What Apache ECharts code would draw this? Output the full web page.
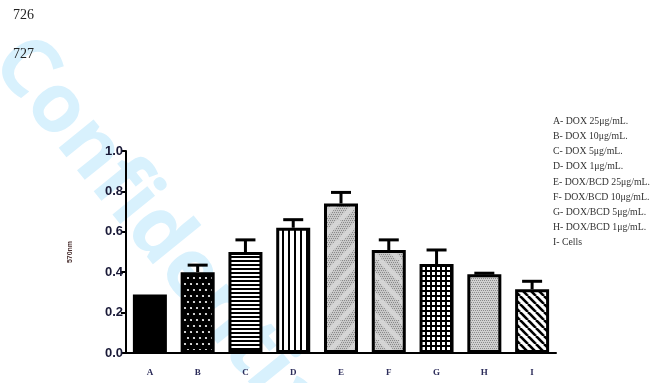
<!DOCTYPE html>
<html>
<head>
<meta charset="utf-8">
<script src="https://cdn.jsdelivr.net/npm/echarts@6/dist/echarts.min.js"></script>
<style>
html,body{margin:0;padding:0;background:#fff;}
#chart{width:666px;height:383px;}
</style>
</head>
<body>
<div id="chart"></div>
<script>
// ---- data ----
const categories = ['A','B','C','D','E','F','G','H','I'];
const values = [0.29, 0.40, 0.50, 0.62, 0.74, 0.51, 0.44, 0.39, 0.315];
const errors = [0, 0.035, 0.06, 0.04, 0.055, 0.05, 0.07, 0.005, 0.04];
const patterns = ['solid','dots','hlines','vlines','grayDiagUp','grayDiagDown','grid','grayStipple','diagDown'];
const yTicks = [0, 0.2, 0.4, 0.6, 0.8, 1.0];
const legendLines = [
  'A- DOX 25\u03bcg/mL.',
  'B- DOX 10\u03bcg/mL.',
  'C- DOX 5\u03bcg/mL.',
  'D- DOX 1\u03bcg/mL.',
  'E- DOX/BCD 25\u03bcg/mL.',
  'F- DOX/BCD 10\u03bcg/mL.',
  'G- DOX/BCD 5\u03bcg/mL.',
  'H- DOX/BCD 1\u03bcg/mL.',
  'I- Cells'
];
const yAxisName = '570nm';
const lineNumbers = ['726', '727'];
const watermark = 'Confidential';

// ---- pattern canvases ----
function stipple(ctx, w, h, bg, fg) {
  ctx.fillStyle = bg; ctx.fillRect(0, 0, w, h);
  ctx.fillStyle = fg;
  for (let y = 0; y < h; y += 2) for (let x = (y / 2) % 2; x < w; x += 2) ctx.fillRect(x, y, 1, 1);
}
function makePattern(type) {
  const c = document.createElement('canvas');
  let w = 12, h = 12;
  if (type === 'hlines') { w = 4; h = 4; }
  if (type === 'vlines') { w = 6; h = 4; }
  if (type === 'grid') { w = 5; h = 5; }
  if (type === 'diagDown') { w = 8; h = 8; }
  if (type === 'grayDiagUp' || type === 'grayDiagDown') { w = 20; h = 20; }
  c.width = w; c.height = h;
  const ctx = c.getContext('2d');
  if (type === 'solid') { ctx.fillStyle = '#000'; ctx.fillRect(0, 0, w, h); }
  else if (type === 'dots') {
    ctx.fillStyle = '#000'; ctx.fillRect(0, 0, w, h);
    ctx.fillStyle = '#fff';
    [[2,2],[8,2],[5,8],[11,8]].forEach(p => { ctx.beginPath(); ctx.arc(p[0], p[1], 1.1, 0, Math.PI * 2); ctx.fill(); });
  } else if (type === 'hlines') {
    ctx.fillStyle = '#fff'; ctx.fillRect(0, 0, w, h);
    ctx.fillStyle = '#000'; ctx.fillRect(0, 0, w, 2);
  } else if (type === 'vlines') {
    ctx.fillStyle = '#fff'; ctx.fillRect(0, 0, w, h);
    ctx.fillStyle = '#000'; ctx.fillRect(0, 0, 2, h);
  } else if (type === 'grid') {
    ctx.fillStyle = '#fff'; ctx.fillRect(0, 0, w, h);
    ctx.fillStyle = '#000'; ctx.fillRect(0, 0, w, 2); ctx.fillRect(0, 0, 2, h);
  } else if (type === 'diagDown') {
    ctx.fillStyle = '#fff'; ctx.fillRect(0, 0, w, h);
    ctx.strokeStyle = '#000'; ctx.lineWidth = 2.6;
    for (let k = -1; k <= 1; k++) { ctx.beginPath(); ctx.moveTo(k * w, 0); ctx.lineTo(k * w + w, h); ctx.stroke(); }
  } else if (type === 'grayStipple') {
    stipple(ctx, w, h, '#d0d0d0', '#8a8a8a');
  } else if (type === 'grayDiagUp' || type === 'grayDiagDown') {
    stipple(ctx, w, h, '#c8c8c8', '#8a8a8a');
    ctx.strokeStyle = 'rgba(215,215,215,0.9)'; ctx.lineWidth = 5;
    for (let k = -1; k <= 1; k++) {
      ctx.beginPath();
      if (type === 'grayDiagUp') { ctx.moveTo(k * w, h); ctx.lineTo(k * w + w, 0); }
      else { ctx.moveTo(k * w, 0); ctx.lineTo(k * w + w, h); }
      ctx.stroke();
    }
  }
  return c;
}

const barData = values.map((v, i) => ({
  value: v,
  itemStyle: {
    color: patterns[i] === 'solid' ? '#000' : { image: makePattern(patterns[i]), repeat: 'repeat' },
    borderColor: '#000',
    borderWidth: 3
  }
}));
const errData = values.map((v, i) => [i, v, errors[i]]);

const chart = echarts.init(document.getElementById('chart'), null, { renderer: 'canvas' });
chart.setOption({
  backgroundColor: '#fff',
  animation: false,
  grid: { left: 126, right: 110, top: 151, bottom: 30, containLabel: false },
  xAxis: {
    type: 'category',
    data: categories,
    axisLine: { lineStyle: { color: '#000', width: 2 } },
    axisTick: { alignWithLabel: true, length: 6, lineStyle: { color: '#000', width: 2 } },
    axisLabel: { color: '#2c2c5a', fontFamily: 'Liberation Serif', fontWeight: 'bold', fontSize: 9, margin: 15 }
  },
  yAxis: {
    type: 'value',
    min: yTicks[0], max: yTicks[yTicks.length - 1], interval: 0.2,
    splitLine: { show: false },
    axisLine: { show: true, lineStyle: { color: '#000', width: 2 } },
    axisTick: { show: true, length: 5, lineStyle: { color: '#000', width: 2 } },
    axisLabel: { color: '#1a1a38', fontFamily: 'Liberation Sans', fontWeight: 'bold', fontSize: 13, margin: 3,
      formatter: v => v.toFixed(1) }
  },
  graphic: [
    { type: 'text', z: -10, x: 8, y: 48, rotation: -51 * Math.PI / 180,
      style: { text: watermark, font: 'bold 82px "Open Sans"', fill: '#d8f1fd', textAlign: 'left', textVerticalAlign: 'middle' } },
    { type: 'text', left: 13, top: 8, style: { text: lineNumbers[0], font: '14px "Liberation Serif"', fill: '#222' } },
    { type: 'text', left: 13, top: 47, style: { text: lineNumbers[1], font: '14px "Liberation Serif"', fill: '#222' } },
    { type: 'text', x: 70, y: 252, rotation: Math.PI / 2,
      style: { text: yAxisName, font: 'bold 7px "Liberation Sans"', fill: '#4a3030', textAlign: 'center', textVerticalAlign: 'middle' } },
    { type: 'text', left: 553, top: 114,
      style: { text: legendLines.join('\n'), font: '9.8px "Liberation Serif"', lineHeight: 15.1, fill: '#333' } }
  ],
  series: [
    { type: 'bar', data: barData, barWidth: 34, z: 3 },
    { type: 'custom', z: 4, data: errData, encode: { x: 0, y: 1 },
      renderItem: function (params, api) {
        const i = api.value(0), v = api.value(1), e = api.value(2);
        if (!e) return null;
        const base = api.coord([i, v]);
        const top = api.coord([i, v + e]);
        const st = { stroke: '#000', lineWidth: 3 };
        return { type: 'group', children: [
          { type: 'line', shape: { x1: base[0], y1: base[1], x2: top[0], y2: top[1] }, style: st },
          { type: 'line', shape: { x1: top[0] - 10, y1: top[1], x2: top[0] + 10, y2: top[1] }, style: st }
        ] };
      } }
  ]
});
</script>
</body>
</html>
